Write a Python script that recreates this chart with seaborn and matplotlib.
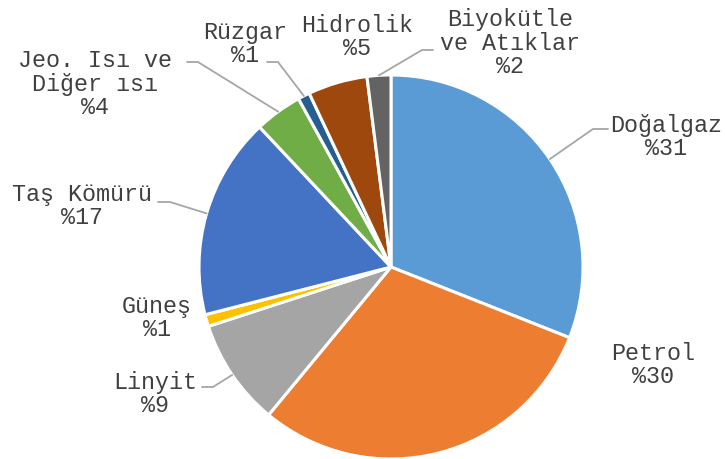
import numpy as np
import matplotlib
matplotlib.use("Agg")
import matplotlib.pyplot as plt
import seaborn as sns

# Data
categories = ["Doğalgaz", "Petrol", "Linyit", "Güneş", "Taş Kömürü",
              "Jeo. Isı ve\nDiğer ısı", "Rüzgar", "Hidrolik", "Biyokütle\nve Atıklar"]
values = [31, 30, 9, 1, 17, 4, 1, 5, 2]
colors = ["#5B9BD5", "#ED7D31", "#A5A5A5", "#FFC000", "#4472C4",
          "#70AD47", "#255E91", "#9E480E", "#636363"]

sns.set_theme(style="white")
plt.rcParams['font.family'] = ['Liberation Mono', 'DejaVu Sans']

W, H = 725, 459
fig = plt.figure(figsize=(W / 100, H / 100), dpi=100)
ax = fig.add_axes([0, 0, 1, 1])

cx, cy, R = 391, H - 267, 192
wedges, _ = ax.pie(values, colors=colors, startangle=90, counterclock=False,
                   center=(cx, cy), radius=R, frame=True,
                   wedgeprops=dict(edgecolor="white", linewidth=2.2))
ax.set_xlim(0, W)
ax.set_ylim(0, H)
ax.set_aspect("equal")
ax.axis("off")

# label text centres (image pixel coords) and leader line elbow/end (None = no line)
label_pos = [(666, 137), (653, 365), (155, 394), (157, 318), (82, 206),
             (95, 84), (245, 44), (357, 37), (510, 43)]
leaders = [((593, 129), (608, 129)), None, ((213, 387), (202, 387)), None,
           ((170, 202), (158, 202)), ((198, 62), (187, 62)),
           ((278, 62), (267, 62)), None, ((422, 50), (433, 50))]

for w, cat, val, (lx, ly), ld in zip(wedges, categories, values, label_pos, leaders):
    ax.text(lx, H - ly, f"{cat}\n%{val}", ha="center", va="center",
            multialignment="center", fontsize=16.8, color="#404040",
            linespacing=1.05)
    if ld is not None:
        ang = np.deg2rad((w.theta1 + w.theta2) / 2)
        sx, sy = cx + R * np.cos(ang), cy + R * np.sin(ang)
        (ex, ey), (tx, ty) = ld
        ax.plot([sx, ex, tx], [sy, H - ey, H - ty], color="#A6A6A6", lw=1.3,
                solid_joinstyle="miter")

fig.savefig("out.png", dpi=100)
